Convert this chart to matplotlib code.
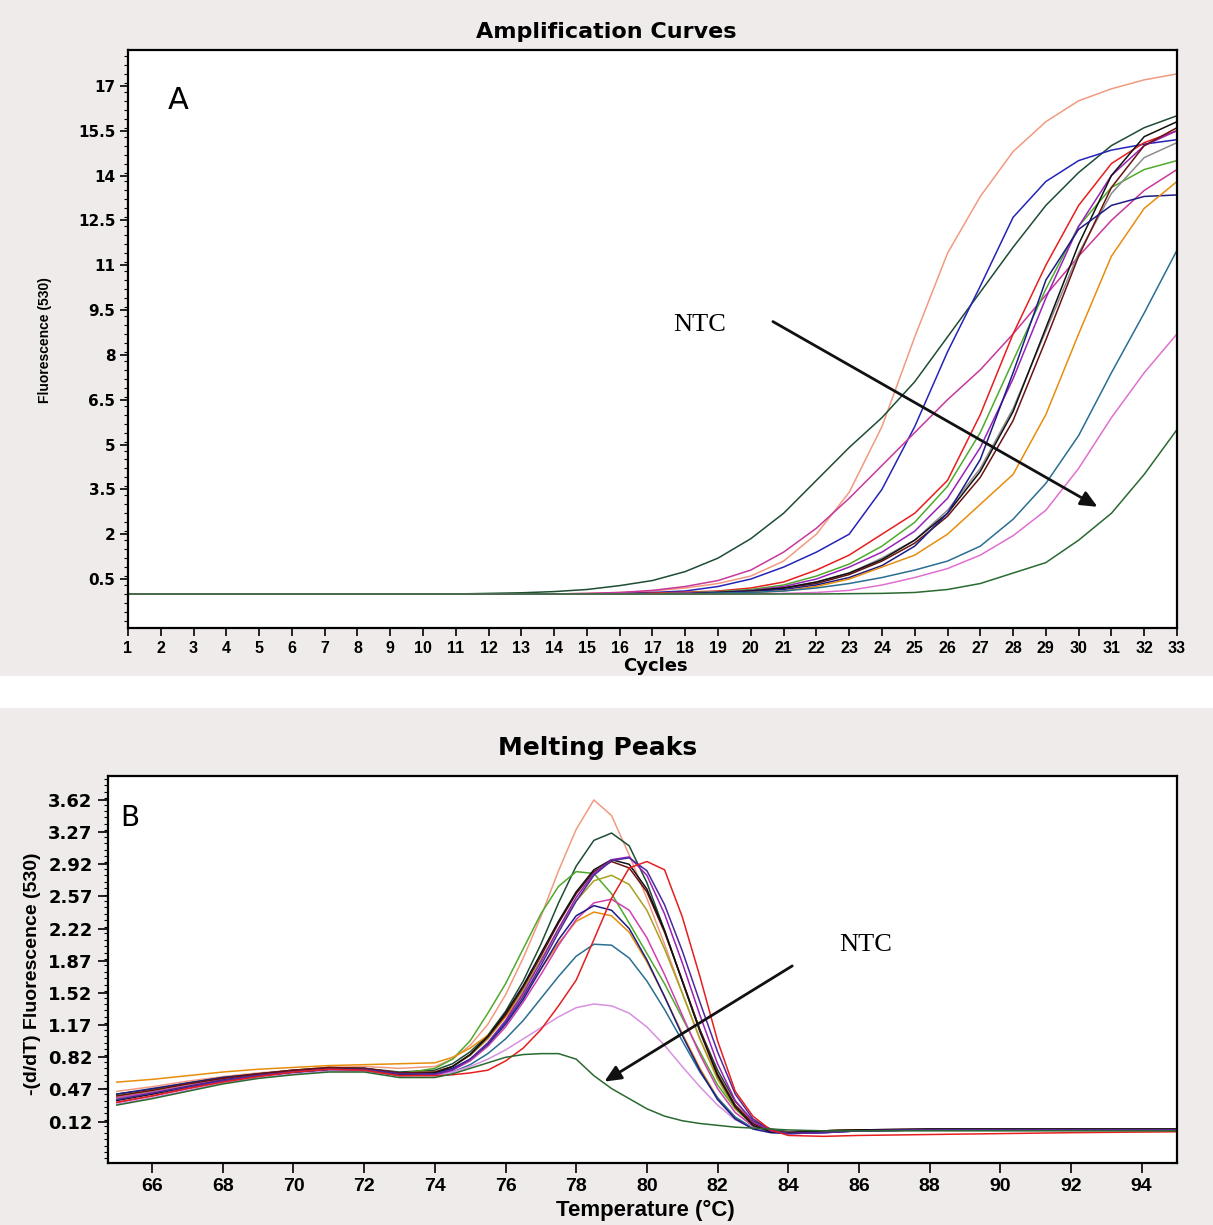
import numpy as np
import matplotlib.pyplot as plt
from matplotlib.ticker import MultipleLocator, FixedLocator
from matplotlib.patches import Rectangle

# ---------------- amplification data (fluorescence per cycle) ----------------
cycles = list(range(1, 34))

amp_salmon = [0, 0, 0, 0, 0, 0, 0, 0, 0, 0, 0, 0, 0, 0, 0.02, 0.05, 0.1, 0.2, 0.35, 0.6, 1.1, 2.0, 3.4,
              5.6, 8.6, 11.4, 13.3, 14.8, 15.8, 16.5, 16.9, 17.2, 17.4]
amp_dkgreen = [0, 0, 0, 0, 0, 0, 0, 0, 0, 0, 0, 0.02, 0.04, 0.08, 0.15, 0.28, 0.45, 0.75, 1.2, 1.85, 2.7,
               3.8, 4.9, 5.9, 7.1, 8.6, 10.1, 11.6, 13.0, 14.1, 15.0, 15.6, 16.0]
amp_blue = [0, 0, 0, 0, 0, 0, 0, 0, 0, 0, 0, 0, 0, 0, 0, 0.02, 0.05, 0.1, 0.25, 0.5, 0.9, 1.4, 2.0,
            3.5, 5.6, 8.1, 10.3, 12.6, 13.8, 14.5, 14.85, 15.05, 15.2]
amp_magenta = [0, 0, 0, 0, 0, 0, 0, 0, 0, 0, 0, 0, 0, 0, 0.02, 0.05, 0.12, 0.25, 0.45, 0.8, 1.4, 2.2,
               3.2, 4.3, 5.4, 6.5, 7.5, 8.7, 10.0, 11.3, 12.5, 13.5, 14.2]
amp_red = [0, 0, 0, 0, 0, 0, 0, 0, 0, 0, 0, 0, 0, 0, 0, 0, 0.03, 0.06, 0.1, 0.2, 0.4, 0.8, 1.3,
           2.0, 2.7, 3.8, 6.0, 8.7, 11.0, 13.0, 14.4, 15.1, 15.5]
amp_green = [0, 0, 0, 0, 0, 0, 0, 0, 0, 0, 0, 0, 0, 0, 0, 0, 0, 0.04, 0.08, 0.15, 0.3, 0.6, 1.0,
             1.6, 2.4, 3.6, 5.4, 7.8, 10.2, 12.3, 13.6, 14.2, 14.5]
amp_purple = [0, 0, 0, 0, 0, 0, 0, 0, 0, 0, 0, 0, 0, 0, 0, 0, 0, 0.03, 0.06, 0.12, 0.25, 0.5, 0.9,
              1.4, 2.1, 3.2, 4.9, 7.2, 9.9, 12.3, 14.0, 15.0, 15.5]
amp_gray = [0, 0, 0, 0, 0, 0, 0, 0, 0, 0, 0, 0, 0, 0, 0, 0, 0, 0, 0.05, 0.1, 0.2, 0.4, 0.7,
            1.2, 1.8, 2.8, 4.2, 6.2, 8.8, 11.4, 13.4, 14.6, 15.1]
amp_brown = [0, 0, 0, 0, 0, 0, 0, 0, 0, 0, 0, 0, 0, 0, 0, 0, 0, 0, 0.05, 0.1, 0.2, 0.35, 0.65,
             1.1, 1.7, 2.6, 3.9, 5.8, 8.5, 11.3, 13.6, 15.0, 15.6]
amp_black = [0, 0, 0, 0, 0, 0, 0, 0, 0, 0, 0, 0, 0, 0, 0, 0, 0, 0, 0.05, 0.1, 0.2, 0.4, 0.7,
             1.15, 1.8, 2.7, 4.1, 6.1, 8.9, 11.7, 14.0, 15.3, 15.8]
amp_navy = [0, 0, 0, 0, 0, 0, 0, 0, 0, 0, 0, 0, 0, 0, 0, 0, 0, 0, 0.04, 0.08, 0.15, 0.3, 0.55,
            0.95, 1.6, 2.7, 4.5, 7.4, 10.5, 12.2, 13.0, 13.3, 13.35]
amp_orange = [0, 0, 0, 0, 0, 0, 0, 0, 0, 0, 0, 0, 0, 0, 0, 0, 0, 0, 0, 0.05, 0.1, 0.25, 0.5,
              0.9, 1.3, 2.0, 3.0, 4.0, 6.0, 8.7, 11.3, 12.9, 13.8]
amp_teal = [0, 0, 0, 0, 0, 0, 0, 0, 0, 0, 0, 0, 0, 0, 0, 0, 0, 0, 0.03, 0.05, 0.1, 0.2, 0.35,
            0.55, 0.8, 1.1, 1.6, 2.5, 3.7, 5.3, 7.4, 9.4, 11.5]
amp_pink = [0, 0, 0, 0, 0, 0, 0, 0, 0, 0, 0, 0, 0, 0, 0, 0, 0, 0, 0, 0, 0.02, 0.05, 0.12,
            0.3, 0.55, 0.85, 1.3, 1.95, 2.8, 4.2, 5.9, 7.4, 8.7]
amp_ntc = [0, 0, 0, 0, 0, 0, 0, 0, 0, 0, 0, 0, 0, 0, 0, 0, 0, 0, 0, 0, 0, 0, 0.01,
           0.02, 0.05, 0.15, 0.35, 0.7, 1.05, 1.8, 2.7, 4.0, 5.5]

amp_series = [
    (amp_salmon, '#f29a80'), (amp_dkgreen, '#1e4d33'), (amp_blue, '#2424b8'),
    (amp_magenta, '#c8389c'), (amp_red, '#e61e1e'), (amp_green, '#4faa2c'),
    (amp_purple, '#9a22b8'), (amp_gray, '#8c8c8c'), (amp_brown, '#6a1212'),
    (amp_black, '#111111'), (amp_navy, '#1c1c86'), (amp_orange, '#e88c0c'),
    (amp_teal, '#2a6e92'), (amp_pink, '#e070d0'), (amp_ntc, '#2a6a30'),
]

# ---------------- melting peak data (-dF/dT per temperature) ----------------
melt_temp = [65, 66, 67, 68, 69, 70, 71, 72, 73, 74, 74.5, 75, 75.5, 76, 76.5, 77, 77.5, 78,
             78.5, 79, 79.5, 80, 80.5, 81, 81.5, 82, 82.5, 83, 83.5, 84, 85, 86, 88, 90, 92, 95]

melt_salmon = [0.45, 0.50, 0.56, 0.61, 0.65, 0.68, 0.71, 0.72, 0.70, 0.72, 0.80, 0.95, 1.18, 1.50,
               1.90, 2.35, 2.85, 3.30, 3.62, 3.45, 3.02, 2.55, 2.05, 1.52, 1.02, 0.60, 0.30, 0.12,
               0.04, 0.01, 0.02, 0.03, 0.03, 0.03, 0.03, 0.03]
melt_dkgreen = [0.42, 0.47, 0.54, 0.60, 0.64, 0.67, 0.70, 0.70, 0.66, 0.68, 0.75, 0.88, 1.06, 1.32,
                1.65, 2.05, 2.50, 2.90, 3.18, 3.26, 3.12, 2.72, 2.20, 1.65, 1.12, 0.68, 0.34, 0.13,
                0.04, 0.01, 0.02, 0.03, 0.03, 0.03, 0.03, 0.03]
melt_red = [0.33, 0.40, 0.48, 0.55, 0.61, 0.66, 0.69, 0.68, 0.62, 0.62, 0.63, 0.65, 0.68, 0.78,
            0.92, 1.12, 1.38, 1.66, 2.10, 2.55, 2.88, 2.95, 2.86, 2.35, 1.70, 1.00, 0.45, 0.18,
            0.03, -0.03, -0.04, -0.03, -0.02, -0.01, 0.00, 0.01]
melt_ltgreen = [0.38, 0.44, 0.51, 0.58, 0.63, 0.67, 0.70, 0.69, 0.64, 0.70, 0.80, 1.00, 1.30, 1.62,
                2.00, 2.38, 2.68, 2.84, 2.82, 2.60, 2.28, 1.95, 1.62, 1.25, 0.88, 0.52, 0.26, 0.10,
                0.03, 0.00, 0.02, 0.03, 0.03, 0.03, 0.03, 0.03]
melt_black = [0.35, 0.42, 0.50, 0.57, 0.62, 0.66, 0.69, 0.69, 0.63, 0.65, 0.72, 0.85, 1.05, 1.30,
              1.60, 1.95, 2.30, 2.62, 2.86, 2.97, 2.92, 2.65, 2.20, 1.65, 1.10, 0.62, 0.28, 0.08,
              0.01, 0.00, 0.02, 0.03, 0.04, 0.04, 0.04, 0.04]
melt_purple = [0.33, 0.40, 0.48, 0.56, 0.62, 0.66, 0.69, 0.68, 0.62, 0.63, 0.68, 0.80, 0.98, 1.22,
               1.52, 1.86, 2.22, 2.56, 2.82, 2.97, 3.00, 2.80, 2.38, 1.85, 1.28, 0.75, 0.35, 0.12,
               0.02, -0.01, 0.00, 0.02, 0.03, 0.03, 0.03, 0.03]
melt_brown = [0.40, 0.46, 0.53, 0.59, 0.64, 0.68, 0.71, 0.70, 0.65, 0.66, 0.72, 0.85, 1.04, 1.28,
              1.58, 1.92, 2.28, 2.60, 2.84, 2.95, 2.88, 2.62, 2.18, 1.66, 1.12, 0.64, 0.30, 0.10,
              0.02, 0.00, 0.02, 0.03, 0.04, 0.04, 0.04, 0.04]
melt_indigo = [0.36, 0.43, 0.50, 0.57, 0.62, 0.66, 0.69, 0.69, 0.64, 0.64, 0.69, 0.80, 0.97, 1.20,
               1.48, 1.82, 2.18, 2.52, 2.80, 2.96, 2.99, 2.85, 2.48, 1.98, 1.42, 0.88, 0.42, 0.15,
               0.03, -0.01, 0.00, 0.02, 0.03, 0.03, 0.03, 0.03]
melt_olive = [0.40, 0.46, 0.53, 0.59, 0.64, 0.68, 0.71, 0.70, 0.65, 0.66, 0.72, 0.84, 1.02, 1.26,
              1.55, 1.88, 2.22, 2.52, 2.74, 2.80, 2.70, 2.42, 2.00, 1.52, 1.02, 0.58, 0.26, 0.08,
              0.01, 0.00, 0.02, 0.03, 0.03, 0.03, 0.03, 0.03]
melt_magenta = [0.38, 0.44, 0.51, 0.58, 0.63, 0.67, 0.70, 0.69, 0.64, 0.64, 0.68, 0.78, 0.94, 1.15,
                1.42, 1.72, 2.04, 2.32, 2.50, 2.54, 2.42, 2.12, 1.72, 1.28, 0.85, 0.48, 0.22, 0.07,
                0.01, 0.00, 0.01, 0.02, 0.03, 0.03, 0.03, 0.03]
melt_navy = [0.42, 0.48, 0.54, 0.60, 0.64, 0.68, 0.70, 0.70, 0.65, 0.65, 0.70, 0.80, 0.96, 1.18,
             1.45, 1.78, 2.10, 2.36, 2.47, 2.42, 2.22, 1.88, 1.48, 1.06, 0.68, 0.36, 0.15, 0.04,
             0.00, -0.01, 0.00, 0.02, 0.03, 0.03, 0.03, 0.03]
melt_orange = [0.55, 0.58, 0.62, 0.66, 0.69, 0.71, 0.73, 0.74, 0.75, 0.76, 0.82, 0.92, 1.06, 1.26,
               1.50, 1.78, 2.06, 2.30, 2.40, 2.36, 2.18, 1.86, 1.48, 1.08, 0.70, 0.38, 0.16, 0.05,
               0.01, 0.00, 0.01, 0.02, 0.03, 0.03, 0.03, 0.03]
melt_teal = [0.36, 0.42, 0.49, 0.56, 0.61, 0.65, 0.68, 0.68, 0.63, 0.63, 0.66, 0.74, 0.86, 1.02,
             1.22, 1.46, 1.70, 1.92, 2.05, 2.04, 1.90, 1.65, 1.34, 1.00, 0.66, 0.38, 0.17, 0.05,
             0.01, 0.00, 0.01, 0.02, 0.03, 0.03, 0.03, 0.03]
melt_violet = [0.31, 0.38, 0.46, 0.54, 0.60, 0.64, 0.67, 0.67, 0.62, 0.62, 0.66, 0.72, 0.80, 0.90,
               1.02, 1.14, 1.26, 1.36, 1.40, 1.38, 1.30, 1.15, 0.95, 0.72, 0.50, 0.30, 0.14, 0.05,
               0.01, 0.00, 0.01, 0.02, 0.03, 0.03, 0.03, 0.03]
melt_ntc = [0.30, 0.37, 0.45, 0.53, 0.59, 0.63, 0.66, 0.66, 0.60, 0.60, 0.64, 0.70, 0.76, 0.82,
            0.85, 0.86, 0.86, 0.80, 0.62, 0.48, 0.37, 0.26, 0.18, 0.13, 0.10, 0.08, 0.06, 0.05,
            0.04, 0.03, 0.02, 0.02, 0.02, 0.02, 0.02, 0.02]

melt_series = [
    (melt_salmon, '#f29a80'), (melt_dkgreen, '#1e4d33'), (melt_ltgreen, '#4faa2c'),
    (melt_olive, '#a8a020'), (melt_orange, '#e88c0c'), (melt_magenta, '#d040b0'),
    (melt_teal, '#2a6e92'), (melt_violet, '#d890e0'), (melt_navy, '#1c1c86'),
    (melt_brown, '#6a1212'), (melt_black, '#111111'), (melt_purple, '#9a22b8'),
    (melt_indigo, '#4b2a9a'), (melt_red, '#e61e1e'), (melt_ntc, '#2a6a30'),
]

amp_yticks = [0.5, 2, 3.5, 5, 6.5, 8, 9.5, 11, 12.5, 14, 15.5, 17]
amp_ytick_labels = ['0.5', '2', '3.5', '5', '6.5', '8', '9.5', '11', '12.5', '14', '15.5', '17']
melt_yticks = [0.12, 0.47, 0.82, 1.17, 1.52, 1.87, 2.22, 2.57, 2.92, 3.27, 3.62]
melt_xticks = list(range(66, 95, 2))

narrow = ['Liberation Sans Narrow', 'Liberation Sans', 'DejaVu Sans']
serif = ['Liberation Serif', 'DejaVu Serif']

fig = plt.figure(figsize=(12.13, 12.25), dpi=100)
fig.patch.set_facecolor('#efebeb')
# white gap between the two panels
fig.patches.append(Rectangle((0, 0.422), 1, 0.026, transform=fig.transFigure,
                             facecolor='white', edgecolor='none', zorder=0))

# ---------------- A: amplification curves ----------------
axA = fig.add_axes([0.1055, 0.4873, 0.8648, 0.4719])
for vals, col in amp_series:
    axA.plot(cycles, vals, color=col, lw=1.1)
axA.set_xlim(1, 33)
axA.set_ylim(-1.14, 18.2)
axA.set_xticks(cycles)
axA.set_xticklabels([str(c) for c in cycles], fontweight='bold', family=narrow, fontsize=11.5)
axA.yaxis.set_major_locator(FixedLocator(amp_yticks))
axA.set_yticklabels(amp_ytick_labels, fontweight='bold', fontsize=11)
axA.yaxis.set_minor_locator(MultipleLocator(0.3))
axA.tick_params(axis='both', which='major', length=6, width=1.2, direction='out', pad=3)
axA.tick_params(axis='y', which='minor', length=3, width=0.8)
for s in axA.spines.values():
    s.set_linewidth(1.6)

axA.text(2.2, 16.5, 'A', fontsize=22, va='center', ha='left')
axA.text(18.45, 9.0, 'NTC', fontsize=19, family=serif, va='center', ha='center')
axA.annotate('', xy=(30.65, 2.87), xytext=(20.6, 9.16),
             arrowprops=dict(arrowstyle='-|>,head_length=1.0,head_width=0.45',
                             color='#111111', lw=2))

fig.text(0.5, 0.974, 'Amplification Curves', ha='center', va='center',
         fontsize=16, fontweight='heavy')
fig.text(0.037, 0.722, 'Fluorescence (530)', rotation=90, ha='center', va='center',
         fontsize=10, fontweight='bold', family=narrow)
fig.text(0.54, 0.4565, 'Cycles', ha='center', va='center', fontsize=13, fontweight='heavy')

# ---------------- B: melting peaks ----------------
axB = fig.add_axes([0.0890, 0.0506, 0.8813, 0.3159])
for vals, col in melt_series:
    axB.plot(melt_temp, vals, color=col, lw=1.1)
axB.set_xlim(64.75, 95)
axB.set_ylim(-0.33, 3.88)
axB.set_xticks(melt_xticks)
axB.set_xticklabels([str(t) for t in melt_xticks], fontweight='bold', family=narrow, fontsize=14)
axB.yaxis.set_major_locator(FixedLocator(melt_yticks))
axB.set_yticklabels(['%.2f' % v for v in melt_yticks], fontweight='bold', fontsize=13)
axB.yaxis.set_minor_locator(MultipleLocator(0.07))
axB.tick_params(axis='both', which='major', length=7, width=1.2, direction='out', pad=4)
axB.tick_params(axis='y', which='minor', length=3, width=0.8)
for s in axB.spines.values():
    s.set_linewidth(1.6)

axB.text(65.1, 3.42, 'B', fontsize=20, va='center', ha='left')
axB.text(86.2, 2.04, 'NTC', fontsize=19, family=serif, va='center', ha='center')
axB.annotate('', xy=(78.73, 0.54), xytext=(84.18, 1.83),
             arrowprops=dict(arrowstyle='-|>,head_length=1.0,head_width=0.45',
                             color='#111111', lw=2))

fig.text(0.493, 0.389, 'Melting Peaks', ha='center', va='center',
         fontsize=18, fontweight='heavy')
fig.text(0.027, 0.205, '-(d/dT) Fluorescence (530)', rotation=90, ha='center', va='center',
         fontsize=14, fontweight='bold', family=narrow)
fig.text(0.532, 0.0122, 'Temperature (\u00b0C)', ha='center', va='center',
         fontsize=16, fontweight='bold', family=narrow)

fig.savefig('out.png', dpi=100, facecolor=fig.get_facecolor())
